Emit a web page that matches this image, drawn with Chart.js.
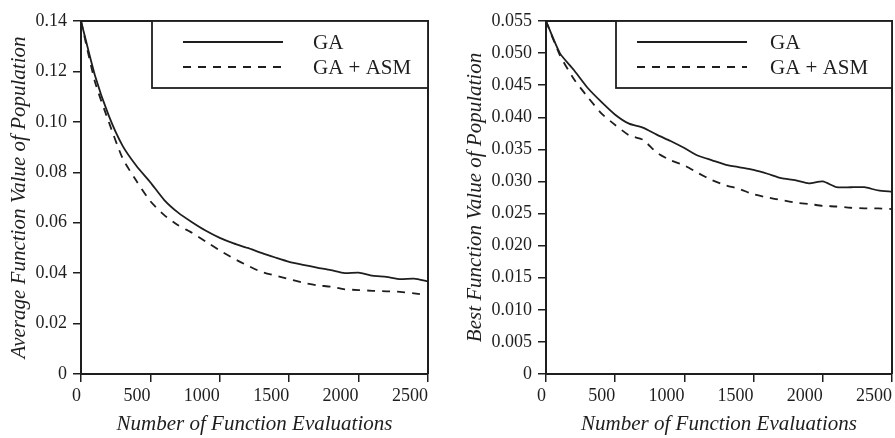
<!DOCTYPE html>
<html>
<head>
<meta charset="utf-8">
<script src="https://cdn.jsdelivr.net/npm/chart.js@4.4.0/dist/chart.umd.min.js"></script>
<style>
  html, body { margin: 0; padding: 0; background: #fff; }
  #wrap { position: relative; width: 895px; height: 438px; }
  .box { position: absolute; top: 0; height: 438px; }
  #left { left: 0; width: 445px; }
  #right { left: 445px; width: 450px; }
</style>
</head>
<body>
<div id="wrap">
  <div class="box" id="left"><canvas id="avgChart"></canvas></div>
  <div class="box" id="right"><canvas id="bestChart"></canvas></div>
</div>
<script>
// data (x = number of function evaluations)
const evaluations = [0, 100, 200, 300, 400, 500, 600, 700, 800, 900, 1000, 1100, 1200,
  1300, 1400, 1500, 1600, 1700, 1800, 1900, 2000, 2100, 2200, 2300, 2400, 2500];

const avgGA = [0.140, 0.1185, 0.1025, 0.0905, 0.0825, 0.0760, 0.0690, 0.0640, 0.0602, 0.0568,
  0.0540, 0.0518, 0.0500, 0.0480, 0.0462, 0.0445, 0.0433, 0.0422, 0.0412, 0.0400,
  0.0402, 0.0390, 0.0385, 0.0376, 0.0378, 0.0367];
const avgASM = [0.140, 0.1160, 0.1000, 0.0855, 0.0765, 0.0685, 0.0630, 0.0590, 0.0560, 0.0525,
  0.0490, 0.0458, 0.0430, 0.0405, 0.0390, 0.0376, 0.0362, 0.0352, 0.0346, 0.0336,
  0.0333, 0.0330, 0.0328, 0.0326, 0.0320, 0.0313];

const bestGA = [0.0550, 0.0500, 0.0474, 0.0446, 0.0424, 0.0404, 0.0390, 0.0384, 0.0373, 0.0363,
  0.0352, 0.0340, 0.0333, 0.0326, 0.0322, 0.0318, 0.0312, 0.0305, 0.0302, 0.0297,
  0.0300, 0.0291, 0.0291, 0.0291, 0.0286, 0.0284];
const bestASM = [0.0550, 0.0497, 0.0460, 0.0432, 0.0406, 0.0388, 0.0372, 0.0365, 0.0345, 0.0333,
  0.0325, 0.0313, 0.0302, 0.0294, 0.0288, 0.0280, 0.0275, 0.0271, 0.0267, 0.0265,
  0.0262, 0.0261, 0.0259, 0.0258, 0.0258, 0.0257];

const seriesLabels = ['GA', 'GA + ASM'];
const evalTicks = [0, 500, 1000, 1500, 2000, 2500];
const avgTicks = [0, 0.02, 0.04, 0.06, 0.08, 0.10, 0.12, 0.14];
const bestTicks = [0, 0.005, 0.010, 0.015, 0.020, 0.025, 0.030, 0.035, 0.040, 0.045, 0.050, 0.055];

const ink = '#1e1e1e';
const serif = '"Liberation Serif", "DejaVu Serif", serif';

// frame on top/right plus the boxed legend in the upper right corner
const framePlugin = {
  id: 'frame',
  afterDraw(chart, args, opts) {
    const {ctx, chartArea: a} = chart;
    ctx.save();
    ctx.strokeStyle = ink;
    ctx.lineWidth = 2;
    ctx.beginPath();
    ctx.moveTo(a.left, a.top);
    ctx.lineTo(a.right, a.top);
    ctx.lineTo(a.right, a.bottom);
    ctx.stroke();

    const x0 = a.left + opts.boxLeft;
    const h = opts.boxHeight;
    ctx.fillStyle = '#fff';
    ctx.fillRect(x0, a.top, a.right - x0, h);
    ctx.lineWidth = 1.8;
    ctx.strokeRect(x0, a.top, a.right - x0, h);

    ctx.font = '21px ' + serif;
    ctx.fillStyle = ink;
    ctx.textBaseline = 'middle';
    chart.data.datasets.forEach((ds, i) => {
      const y = a.top + opts.rowTop + i * opts.rowGap;
      ctx.setLineDash(ds.borderDash || []);
      ctx.lineWidth = ds.borderWidth;
      ctx.beginPath();
      ctx.moveTo(x0 + opts.lineStart, y);
      ctx.lineTo(x0 + opts.lineEnd, y);
      ctx.stroke();
      ctx.setLineDash([]);
      ctx.fillText(ds.label, x0 + opts.textLeft, y + 1);
    });
    ctx.restore();
  }
};

function pts(ys) {
  return evaluations.map((x, i) => ({x: x, y: ys[i]}));
}

function makeChart(el, cfg) {
  return new Chart(el, {
    type: 'line',
    data: {
      datasets: [
        {label: seriesLabels[0], data: pts(cfg.ga), borderColor: ink, borderWidth: 1.8,
          pointRadius: 0, tension: 0.2, fill: false},
        {label: seriesLabels[1], data: pts(cfg.asm), borderColor: ink, borderWidth: 1.8,
          borderDash: [8, 7], pointRadius: 0, tension: 0.2, fill: false}
      ]
    },
    options: {
      responsive: true,
      maintainAspectRatio: false,
      animation: false,
      layout: {padding: {top: 21, right: cfg.padRight, left: 0, bottom: 0}},
      plugins: {
        legend: {display: false},
        tooltip: {enabled: false},
        frame: cfg.legendBox
      },
      scales: {
        x: {
          type: 'linear',
          min: 0,
          max: 2500,
          afterBuildTicks: s => { s.ticks = evalTicks.map(v => ({value: v})); },
          afterFit: s => { s.height = 64; },
          grid: {drawOnChartArea: false, tickLength: 8, color: ink, lineWidth: 1.5},
          border: {color: ink, width: 2},
          ticks: {align: 'end', padding: 3, maxRotation: 0, autoSkip: false, color: ink,
            font: {family: serif, size: 18}, callback: v => String(v)},
          title: {display: true, text: 'Number of Function Evaluations', color: ink,
            font: {family: serif, size: 21, style: 'italic'}, padding: {top: 0, bottom: 1}}
        },
        y: {
          min: 0,
          max: cfg.yMax,
          afterBuildTicks: s => { s.ticks = cfg.yTicks.map(v => ({value: v})); },
          afterFit: s => { s.width = cfg.yWidth; },
          grid: {drawOnChartArea: false, tickLength: 8, color: ink, lineWidth: 1.5},
          border: {color: ink, width: 2},
          ticks: {padding: 6, autoSkip: false, color: ink, font: {family: serif, size: 18},
            callback: v => v === 0 ? '0' : v.toFixed(cfg.digits)},
          title: {display: true, text: cfg.yTitle, color: ink,
            font: {family: serif, size: 21, style: 'italic'}, padding: {top: cfg.titlePad, bottom: 0}}
        }
      }
    },
    plugins: [framePlugin]
  });
}

makeChart(document.getElementById('avgChart'), {
  ga: avgGA, asm: avgASM, yMax: 0.14, yTicks: avgTicks, digits: 2,
  yTitle: 'Average Function Value of Population', yWidth: 81, padRight: 17, titlePad: 7,
  legendBox: {boxLeft: 71, boxHeight: 67, rowTop: 21, rowGap: 25, lineStart: 31, lineEnd: 131, textLeft: 161}
});

makeChart(document.getElementById('bestChart'), {
  ga: bestGA, asm: bestASM, yMax: 0.055, yTicks: bestTicks, digits: 3,
  yTitle: 'Best Function Value of Population', yWidth: 101, padRight: 2, titlePad: 18,
  legendBox: {boxLeft: 70, boxHeight: 67, rowTop: 21, rowGap: 25, lineStart: 21, lineEnd: 131, textLeft: 154}
});
</script>
</body>
</html>
